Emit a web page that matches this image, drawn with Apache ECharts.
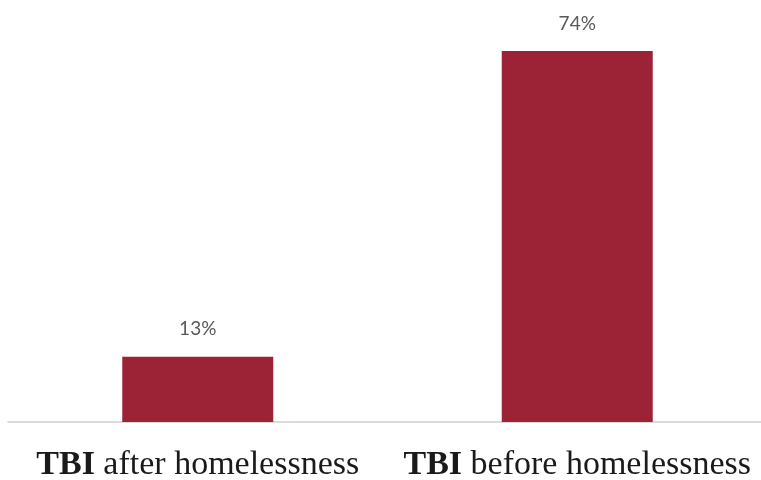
<!DOCTYPE html>
<html><head><meta charset="utf-8">
<script src="https://cdn.jsdelivr.net/npm/echarts@6/dist/echarts.min.js"></script>
<style>html,body{margin:0;padding:0;background:#fff}#c{width:761px;height:480px}</style>
</head><body><div id="c"></div>
<script>
const categories = ["TBI after homelessness", "TBI before homelessness"];
const values = [13, 74];
const chart = echarts.init(document.getElementById('c'), null, {renderer:'canvas'});
chart.setOption({
  animation: false,
  grid: {left: 8, width: 759, bottom: 58, top: 21, containLabel: false, outerBoundsMode: 'none'},
  xAxis: {
    type: 'category', data: categories,
    axisLine: {lineStyle: {color: '#d0d0d0', width: 1.5}},
    axisTick: {show: false},
    axisLabel: {
      margin: 26, interval: 0, hideOverlap: false,
      formatter: function (v) { return '{b|TBI}' + v.slice(3); },
      fontFamily: 'Liberation Serif', fontSize: 34, color: '#1a1a1a',
      rich: {b: {fontFamily: 'Liberation Serif', fontSize: 34, fontWeight: 'bold', color: '#1a1a1a'}}
    }
  },
  yAxis: {type: 'value', min: 0, max: 80, show: false, splitLine: {show: false}},
  series: [{
    type: 'bar', data: values, barWidth: 151,
    itemStyle: {color: '#9C2335'},
    label: {show: true, position: 'top', distance: 18, formatter: '{c}%',
      fontFamily: 'Lato', fontSize: 19, color: '#595959'}
  }]
});
</script></body></html>
